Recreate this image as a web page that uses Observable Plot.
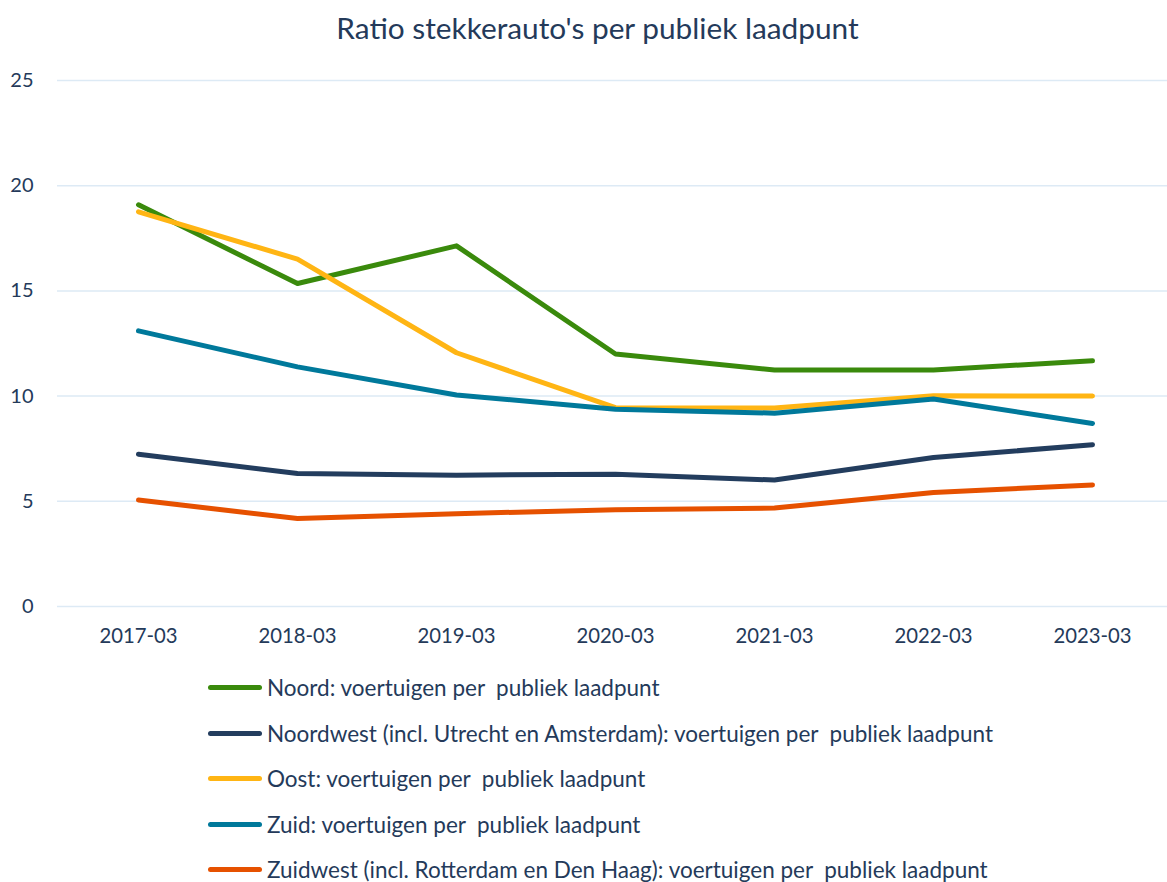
<!DOCTYPE html>
<html>
<head>
<meta charset="utf-8">
<script src="https://cdn.jsdelivr.net/npm/d3@7"></script>
<script src="https://cdn.jsdelivr.net/npm/@observablehq/plot@0.6"></script>
<style>
  body { margin: 0; background: #fff; font-family: Lato, "Open Sans", sans-serif; color: #243A5A; }
  #title { height: 55px; line-height: 56px; text-align: center; font-size: 29.8px; padding-left: 28px; }
  #legend { margin-left: 208px; }
  .item { display: flex; align-items: center; height: 45.5px; font-size: 22.5px; white-space: pre; }
  .sw { width: 54px; height: 5px; border-radius: 3px; margin-right: 5px; }
</style>
</head>
<body>
<div id="title">Ratio stekkerauto's per publiek laadpunt</div>
<div id="chart"></div>
<div id="legend"></div>
<script>
const periods = ["2017-03","2018-03","2019-03","2020-03","2021-03","2022-03","2023-03"];
const seriesNames = [
  "Noord: voertuigen per  publiek laadpunt",
  "Noordwest (incl. Utrecht en Amsterdam): voertuigen per  publiek laadpunt",
  "Oost: voertuigen per  publiek laadpunt",
  "Zuid: voertuigen per  publiek laadpunt",
  "Zuidwest (incl. Rotterdam en Den Haag): voertuigen per  publiek laadpunt"
];
const noord     = [19.09, 15.35, 17.14, 12.00, 11.24, 11.24, 11.68];
const noordwest = [7.24, 6.32, 6.24, 6.29, 6.01, 7.08, 7.69];
const oost      = [18.76, 16.51, 12.06, 9.45, 9.43, 10.02, 10.00];
const zuid      = [13.10, 11.39, 10.05, 9.38, 9.19, 9.86, 8.70];
const zuidwest  = [5.06, 4.18, 4.41, 4.60, 4.68, 5.42, 5.78];
const colors = ["#3A8A0C", "#233D5E", "#FFB514", "#00799B", "#E65100"];
const yTicks = [0, 5, 10, 15, 20, 25];

const allValues = [noord, noordwest, oost, zuid, zuidwest];
const rows = [];
allValues.forEach((vals, i) => vals.forEach((v, j) => rows.push({period: periods[j], value: v, series: seriesNames[i]})));

const chart = Plot.plot({
  width: 1167,
  height: 610,
  marginTop: 25,
  marginBottom: 59,
  marginLeft: 57,
  marginRight: -5,
  style: {fontFamily: "Lato, 'Open Sans', sans-serif", fontSize: "20px", color: "#243A5A"},
  x: {type: "point", domain: periods, padding: 0.488, label: null},
  y: {domain: [0, 25], label: null},
  color: {domain: seriesNames, range: colors},
  marks: [
    Plot.ruleY(yTicks, {stroke: "#DDEAF5", strokeWidth: 1.5}),
    Plot.axisY({ticks: yTicks, tickSize: 0, tickPadding: 24, fontSize: 20, label: null}),
    Plot.axisX({tickSize: 0, tickPadding: 22, fontSize: 20.3, label: null}),
    Plot.line(rows, {x: "period", y: "value", z: "series", stroke: "series", strokeWidth: 5, strokeLinecap: "round", strokeLinejoin: "round"})
  ]
});
document.getElementById("chart").appendChild(chart);

const legend = document.getElementById("legend");
seriesNames.forEach((name, i) => {
  const item = document.createElement("div");
  item.className = "item";
  const sw = document.createElement("span");
  sw.className = "sw";
  sw.style.background = colors[i];
  const label = document.createElement("span");
  label.textContent = name;
  item.appendChild(sw);
  item.appendChild(label);
  legend.appendChild(item);
});
</script>
</body>
</html>
